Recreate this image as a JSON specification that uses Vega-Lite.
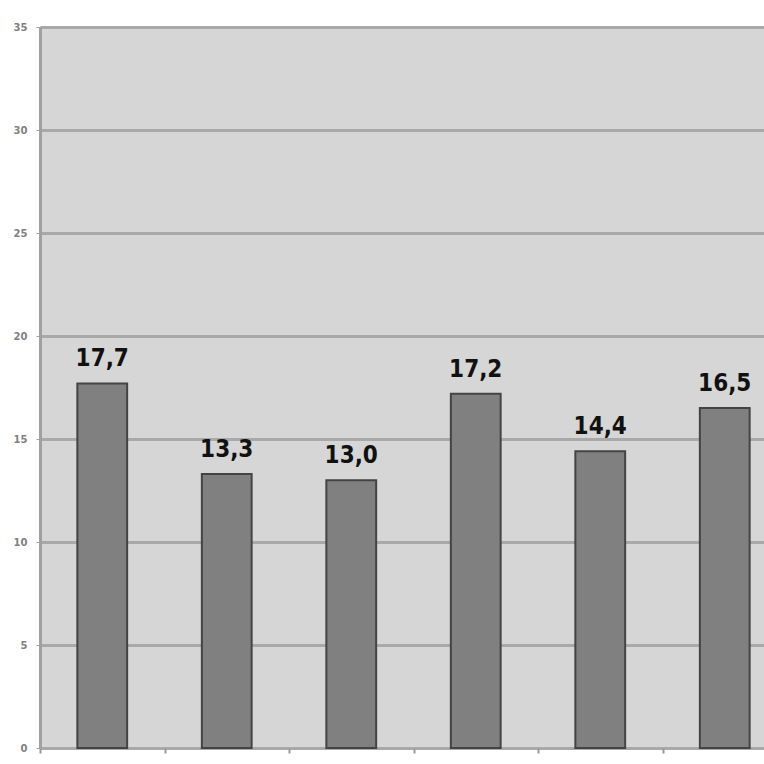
{
  "$schema": "https://vega.github.io/schema/vega-lite/v6.json",
  "autosize": {"type": "none"},
  "padding": {"left": 40, "top": 27, "right": 0, "bottom": 16},
  "width": 747,
  "height": 721,
  "background": "#ffffff",
  "config": {
    "locale": {"number": {"decimal": ",", "thousands": ".", "grouping": [3], "currency": ["", " €"]}},
    "view": {"fill": "#d6d6d6", "stroke": null}
  },
  "data": {
    "values": [
      {"cat": "A", "value": 17.7},
      {"cat": "B", "value": 13.3},
      {"cat": "C", "value": 13.0},
      {"cat": "D", "value": 17.2},
      {"cat": "E", "value": 14.4},
      {"cat": "F", "value": 16.5}
    ]
  },
  "encoding": {
    "x": {
      "field": "cat", "type": "nominal", "title": null,
      "scale": {"paddingInner": 0, "paddingOuter": 0},
      "axis": {"labels": false, "tickBand": "extent", "ticks": true, "tickSize": 5, "tickColor": "#999999", "tickWidth": 2, "domain": false, "grid": false}
    },
    "y": {
      "field": "value", "type": "quantitative", "title": null,
      "scale": {"domain": [0, 35], "nice": false},
      "axis": {"values": [0, 5, 10, 15, 20, 25, 30, 35], "grid": true, "gridColor": "#a9a9a9", "gridWidth": 3, "domainColor": "#a0a0a0", "domainWidth": 3, "tickColor": "#a0a0a0", "tickSize": 4, "labelFont": "DejaVu Sans", "labelFontSize": 10, "labelFontWeight": "bold", "labelColor": "#808080", "labelPadding": 9, "format": "d"}
    }
  },
  "layer": [
    {"mark": {"type": "bar", "fill": "#808080", "stroke": "#444444", "strokeWidth": 2, "width": {"band": 0.4}}},
    {"mark": {"type": "text", "baseline": "alphabetic", "dy": -17, "font": "DejaVu Sans Condensed", "fontWeight": "bold", "fontSize": 24, "color": "#111111"},
     "encoding": {"text": {"field": "value", "type": "quantitative", "format": ".1f"}}}
  ]
}
